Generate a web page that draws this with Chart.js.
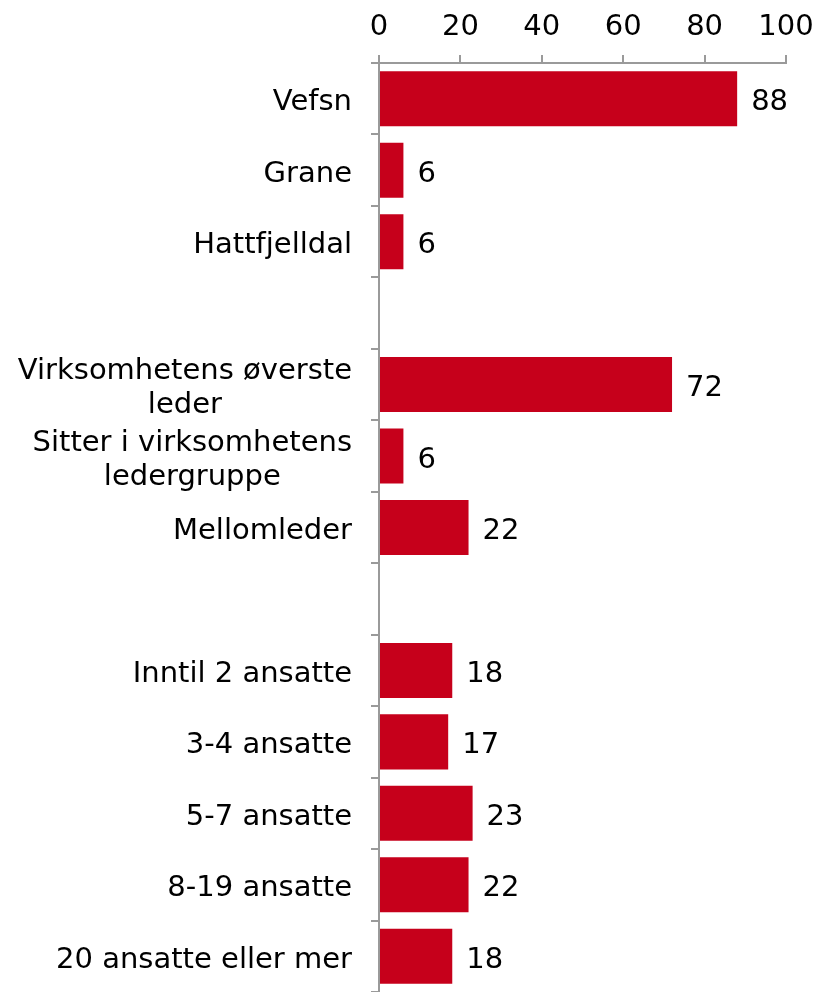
<!DOCTYPE html>
<html>
<head>
<meta charset="utf-8">
<script src="https://cdn.jsdelivr.net/npm/chart.js@4"></script>
<style>
  html, body { margin: 0; padding: 0; background: #fff; }
  #wrap { width: 815px; height: 992px; position: relative; }
</style>
</head>
<body>
<div id="wrap"><canvas id="chart"></canvas></div>
<script>
// categories (empty strings are the gaps between groups)
var categories = [
  'Vefsn', 'Grane', 'Hattfjelldal', '',
  ['Virksomhetens øverste', 'leder'], ['Sitter i virksomhetens', 'ledergruppe'], 'Mellomleder', '',
  'Inntil 2 ansatte', '3-4 ansatte', '5-7 ansatte', '8-19 ansatte', '20 ansatte eller mer'
];
var values = [88, 6, 6, null, 72, 6, 22, null, 18, 17, 23, 22, 18];
var xTicks = [0, 20, 40, 60, 80, 100];

var FONT = '"DejaVu Sans", Verdana, sans-serif';
var FONT_SIZE = 29;
var AXIS_GRAY = '#9a9a9a';
var BAR_RED = '#c6001b';
var TEXT_SHIFT = 4; // text sits a little below the row centre

// draws the category labels, each multi-line label centred on itself
var yLabelPlugin = {
  id: 'yLabels',
  afterDraw: function(chart) {
    var ctx = chart.ctx;
    var yScale = chart.scales.y;
    var rightEdge = yScale.right - 27;
    var lineHeight = 34;
    ctx.save();
    ctx.font = FONT_SIZE + 'px ' + FONT;
    ctx.fillStyle = '#000';
    ctx.textAlign = 'center';
    ctx.textBaseline = 'middle';
    categories.forEach(function(label, i) {
      var lines = Array.isArray(label) ? label : [label];
      var maxW = 0;
      lines.forEach(function(l) { maxW = Math.max(maxW, ctx.measureText(l).width); });
      var cx = rightEdge - maxW / 2;
      var y = yScale.getPixelForValue(i) + TEXT_SHIFT;
      var top = y - (lines.length - 1) * lineHeight / 2;
      lines.forEach(function(l, j) {
        ctx.fillText(l, cx, top + j * lineHeight);
      });
    });
    ctx.restore();
  }
};

// value labels at the end of each bar
var valueLabelPlugin = {
  id: 'valueLabels',
  afterDatasetsDraw: function(chart) {
    var ctx = chart.ctx;
    var meta = chart.getDatasetMeta(0);
    ctx.save();
    ctx.font = FONT_SIZE + 'px ' + FONT;
    ctx.fillStyle = '#000';
    ctx.textAlign = 'left';
    ctx.textBaseline = 'middle';
    meta.data.forEach(function(bar, i) {
      if (values[i] === null) return;
      ctx.fillText(String(values[i]), bar.x + 14, bar.y + TEXT_SHIFT);
    });
    ctx.restore();
  }
};

var ctx = document.getElementById('chart').getContext('2d');

new Chart(ctx, {
  type: 'bar',
  data: {
    labels: categories,
    datasets: [{
      data: values,
      backgroundColor: BAR_RED,
      borderWidth: 0,
      categoryPercentage: 1,
      barPercentage: 0.77
    }]
  },
  options: {
    indexAxis: 'y',
    responsive: true,
    maintainAspectRatio: false,
    animation: false,
    layout: { padding: { left: 0, right: 29, top: 0, bottom: 0 } },
    plugins: {
      legend: { display: false },
      tooltip: { enabled: false }
    },
    scales: {
      x: {
        position: 'top',
        min: 0,
        max: 100,
        afterBuildTicks: function(scale) {
          scale.ticks = xTicks.map(function(v) { return { value: v }; });
        },
        afterFit: function(scale) {
          scale.height = 63;
          scale.paddingLeft = 0;
          scale.paddingRight = 0;
        },
        ticks: {
          color: '#000',
          font: { family: FONT, size: FONT_SIZE },
          padding: 10,
          maxRotation: 0
        },
        grid: {
          drawOnChartArea: false,
          tickLength: 8,
          color: AXIS_GRAY,
          lineWidth: 2
        },
        border: { color: AXIS_GRAY, width: 2 }
      },
      y: {
        afterFit: function(scale) {
          scale.width = 379;
          scale.paddingTop = 0;
          scale.paddingBottom = 0;
        },
        ticks: { display: false },
        grid: {
          drawOnChartArea: false,
          tickLength: 8,
          color: AXIS_GRAY,
          lineWidth: 2
        },
        border: { color: AXIS_GRAY, width: 2 }
      }
    }
  },
  plugins: [yLabelPlugin, valueLabelPlugin]
});
</script>
</body>
</html>
